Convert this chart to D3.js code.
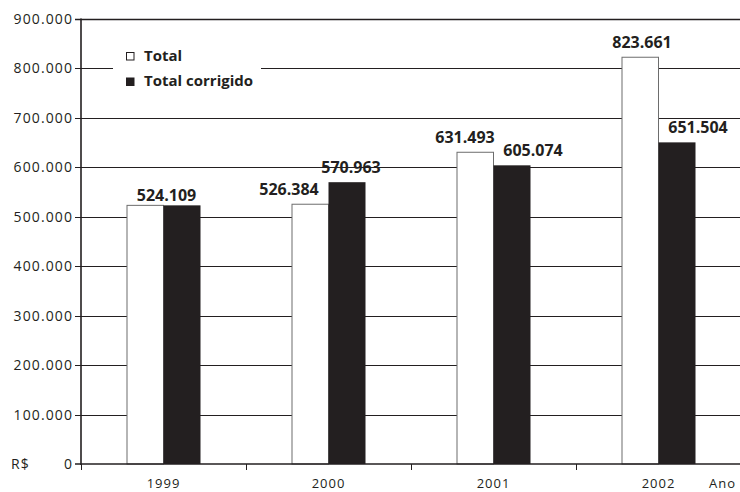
<!DOCTYPE html>
<html>
<head>
<meta charset="utf-8">
<script src="https://cdn.jsdelivr.net/npm/d3@7/dist/d3.min.js"></script>
<style>
  html, body { margin: 0; padding: 0; background: #fff; }
  svg { display: block; }
  .axis-label { font-family: "Open Sans", sans-serif; font-size: 14px; letter-spacing: 1.1px; fill: #231f20; }
  .year-label { font-family: "Open Sans", sans-serif; font-size: 13px; letter-spacing: 1px; fill: #231f20; }
  .value-label { font-family: "Open Sans", sans-serif; font-size: 16px; font-weight: bold; fill: #231f20; }
  .legend-label { font-family: "Open Sans", sans-serif; font-size: 15px; font-weight: bold; fill: #231f20; }
</style>
</head>
<body>
<svg id="chart" width="740" height="492"></svg>
<script>
// Valores anuais em R$
const anos = ["1999", "2000", "2001", "2002"];
const series = ["Total", "Total corrigido"];
const total = [524109, 526384, 631493, 823661];
const totalCorrigido = [524109, 570963, 605074, 651504];
const yTicks = [0, 100000, 200000, 300000, 400000, 500000, 600000, 700000, 800000, 900000];

const ptBR = d3.formatLocale({ decimal: ",", thousands: ".", grouping: [3], currency: ["R$", ""] });
const fmt = ptBR.format(",d");

const svg = d3.select("#chart");
const margin = { left: 81, right: 0, top: 19, bottom: 28 };
const W = 740, H = 492;

const x = d3.scaleBand().domain(anos).range([margin.left, W + 1]).paddingInner(0).paddingOuter(0);
const barW = 37;
const x1 = d3.scaleBand().domain(series)
  .range([x.bandwidth() / 2 - barW, x.bandwidth() / 2 + barW]);
const y = d3.scaleLinear().domain([0, 900000]).range([H - margin.bottom, margin.top]);

const rows = anos.map((a, i) => ({ ano: a, values: [
  { serie: series[0], v: total[i] },
  { serie: series[1], v: totalCorrigido[i] }
]}));

// Linhas de grade horizontais (com marcas à esquerda do eixo)
svg.append("g").selectAll("line").data(yTicks.filter(d => d > 0)).join("line")
  .attr("x1", margin.left - 6).attr("x2", W)
  .attr("y1", d => Math.round(y(d)) + 0.5).attr("y2", d => Math.round(y(d)) + 0.5)
  .attr("stroke", "#231f20")
  .attr("stroke-width", d => d === 900000 ? 1.6 : 1);

// Rótulos do eixo Y
svg.append("g").selectAll("text").data(yTicks).join("text")
  .attr("class", "axis-label")
  .attr("x", 73).attr("y", d => y(d)).attr("dy", "0.36em")
  .attr("text-anchor", "end")
  .text(d => fmt(d));

svg.append("text").attr("class", "axis-label").attr("x", 11).attr("y", y(0)).attr("dy", "0.36em").text("R$");

// Fundo da legenda
svg.append("rect").attr("x", 113).attr("y", 36).attr("width", 148).attr("height", 62).attr("fill", "#fff");

// Barras
const groups = svg.append("g").selectAll("g").data(rows).join("g")
  .attr("transform", d => `translate(${x(d.ano)},0)`);

groups.selectAll("rect").data(d => d.values).join("rect")
  .attr("x", d => x1(d.serie) + (d.serie === series[0] ? 0.5 : 0))
  .attr("y", d => y(d.v) + 0.5)
  .attr("width", d => x1.bandwidth() - (d.serie === series[0] ? 0.5 : 0))
  .attr("height", d => y(0) - y(d.v) - 0.5)
  .attr("fill", d => d.serie === series[0] ? "#fff" : "#231f20")
  .attr("stroke", d => d.serie === series[0] ? "#6d6d6d" : "none")
  .attr("stroke-width", 1);

// Eixos
svg.append("line").attr("x1", margin.left).attr("x2", margin.left)
  .attr("y1", y(900000) - 0.5).attr("y2", y(0) + 1)
  .attr("stroke", "#231f20").attr("stroke-width", 1.6);
svg.append("line").attr("x1", margin.left - 6).attr("x2", W)
  .attr("y1", y(0)).attr("y2", y(0))
  .attr("stroke", "#231f20").attr("stroke-width", 1.6);
svg.append("g").selectAll("line").data(anos).join("line")
  .attr("x1", d => Math.round(x(d)) + 0.5).attr("x2", d => Math.round(x(d)) + 0.5)
  .attr("y1", y(0)).attr("y2", y(0) + 6)
  .attr("stroke", "#231f20").attr("stroke-width", 1);

// Rótulos do eixo X
svg.append("g").selectAll("text").data(anos).join("text")
  .attr("class", "year-label")
  .attr("x", d => x(d) + x.bandwidth() / 2)
  .attr("y", 488)
  .attr("text-anchor", "middle")
  .text(d => d);
svg.append("text").attr("class", "year-label").attr("x", 709).attr("y", 488).text("Ano");

// Rótulos de valor (deslocamentos para evitar sobreposição)
const labelNudge = {
  "2000|Total": -21, "2000|Total corrigido": 4,
  "2001|Total": -10, "2001|Total corrigido": 21,
  "2002|Total": 2, "2002|Total corrigido": 21
};
const labels = [];
rows.forEach(r => {
  const [a, b] = r.values;
  if (a.v === b.v) {
    labels.push({ x: x(r.ano) + x.bandwidth() / 2 + 3, y: y(a.v) - 4, t: fmt(a.v) });
  } else {
    r.values.forEach(d => labels.push({
      x: x(r.ano) + x1(d.serie) + x1.bandwidth() / 2 + labelNudge[r.ano + "|" + d.serie],
      y: y(d.v) - 9,
      t: fmt(d.v)
    }));
  }
});
svg.append("g").selectAll("text").data(labels).join("text")
  .attr("class", "value-label")
  .attr("x", d => d.x).attr("y", d => d.y)
  .attr("text-anchor", "middle")
  .text(d => d.t);

// Legenda
const legend = svg.append("g");
series.forEach((s, i) => {
  legend.append("rect")
    .attr("x", 126.5).attr("y", 52.5 + i * 25.5).attr("width", 7.5).attr("height", 7.5)
    .attr("fill", i === 0 ? "#fff" : "#231f20")
    .attr("stroke", "#231f20").attr("stroke-width", 1);
  legend.append("text").attr("class", "legend-label")
    .attr("x", 144).attr("y", 60.5 + i * 25.5).text(s);
});
</script>
</body>
</html>
